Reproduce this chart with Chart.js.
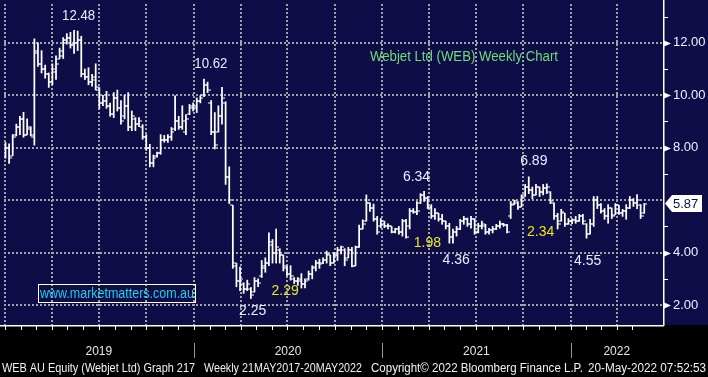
<!DOCTYPE html>
<html><head><meta charset="utf-8">
<script src="https://cdn.jsdelivr.net/npm/chart.js@4.4.1/dist/chart.umd.min.js"></script>
<style>html,body{margin:0;padding:0;background:#000;overflow:hidden}canvas{display:block}</style>
</head><body>
<canvas id="c" width="708" height="377"></canvas>
<script>
// ---- data: weekly bars (week index from first week of Jan 2019) ----
const opens = [7.7,8.0,7.7,8.5,8.8,9.1,8.5,8.7,8.4,11.7, 11.2,11.0,10.8,10.5,10.9,11.4,11.5,12.1,12.2,11.9, 12.0,12.1,10.8,10.7,10.5,10.7,10.2,9.7,9.8,9.6, 9.3,9.9,9.5,9.2,9.6,8.8,9.1,8.9,8.8,8.4, 8.0,7.4,7.7,7.8,8.3,8.3,8.4,8.7,9.0,8.8, 8.6,9.3,9.5,9.5,9.8,10.0,10.4,9.7,8.6,8.6, 9.2,9.7,6.9,5.8,3.5,2.9,2.8,2.6,2.6,2.5, 2.9,3.1,3.4,3.6,4.3,4.0,4.1,3.9,3.4,3.2, 3.0,2.9,2.9,2.8,3.0,3.2,3.4,3.6,3.6,3.7, 3.9,3.6,3.9,4.1,4.1,3.8,4.1,3.5,4.2,4.9, 5.2,5.9,5.7,5.3,5.0,5.1,5.0,5.0,4.8,4.9, 4.8,5.2,5.0,5.6,5.55,5.9,6.2,6.1,5.7,5.4, 5.5,5.3,5.2,5.0,4.6,4.8,4.9,5.2,5.3,5.1, 5.3,4.8,5.0,5.0,4.8,4.85,4.9,5.0,5.1,5.05, 5.4,5.85,5.9,5.75,6.2,6.5,6.4,6.2,6.5,6.3, 6.45,6.3,5.9,5.4,5.2,5.5,5.1,5.2,5.25,5.2, 5.4,5.1,4.7,5.1,6.0,5.8,5.6,5.4,5.7,5.45, 5.8,5.5,5.6,5.7,6.0,5.9,5.8,5.5];
const highs = [8.2,8.15,8.5,8.9,9.2,9.35,9.1,8.8,12.15,12.0, 11.7,11.15,10.85,11.2,11.5,11.8,12.2,12.35,12.4,12.48, 12.45,12.25,11.0,11.05,10.8,11.2,10.3,10.0,10.15,9.7, 10.1,10.2,9.8,10.0,10.1,9.4,9.15,9.15,8.88,8.5, 8.13,7.72,7.83,8.5,8.47,8.5,8.77,9.98,9.2,9.6, 9.26,9.65,9.71,9.9,9.98,10.62,10.5,9.8,9.34,9.6, 10.3,9.75,7.27,5.8,3.6,3.45,2.85,2.95,2.67,3.05, 3.0,3.7,3.8,4.75,4.5,4.9,4.15,3.9,3.5,3.5, 3.05,3.05,3.2,3.0,3.3,3.5,3.7,3.75,3.8,4.06, 3.9,4.0,4.2,4.25,4.15,4.2,4.2,4.25,5.05,5.25, 6.2,5.9,5.85,5.38,5.3,5.2,5.1,5.0,4.93,5.0, 5.27,5.27,5.68,5.68,5.95,6.25,6.34,6.14,5.83,5.68, 5.5,5.46,5.2,5.12,4.9,5.0,5.27,5.38,5.32,5.38, 5.3,5.12,5.2,5.08,4.93,5.0,5.08,5.2,5.12,5.08, 5.95,6.0,5.95,6.2,6.6,6.89,6.5,6.6,6.5,6.6, 6.62,6.32,5.9,5.5,5.65,5.5,5.3,5.3,5.38,5.46, 5.46,5.1,5.27,6.14,6.14,5.87,5.68,5.83,5.7,5.87, 5.8,5.65,5.83,6.14,6.06,6.21,5.83,5.87];
const lows = [7.6,7.4,7.7,8.45,8.5,8.4,8.5,8.45,8.1,11.1, 10.85,10.65,10.3,10.4,10.6,11.4,11.4,11.95,11.8,11.6, 11.7,10.7,10.6,10.4,10.35,10.2,9.5,9.6,9.5,9.2, 9.15,9.4,8.9,9.1,8.65,8.65,8.65,8.8,8.32,7.9, 7.27,7.27,7.64,7.75,8.21,8.2,8.28,8.65,8.7,8.7, 8.5,9.26,9.4,9.34,9.71,9.95,10.1,8.5,7.95,8.6, 8.9,6.6,5.87,3.4,2.7,2.55,2.45,2.55,2.25,2.5, 2.7,3.05,3.25,3.5,3.6,3.6,3.6,3.3,3.12,2.95, 2.82,2.75,2.65,2.65,2.95,3.0,3.3,3.4,3.58,3.6, 3.5,3.6,3.7,3.95,3.5,3.8,3.45,3.5,4.2,4.9, 5.2,5.57,5.2,4.7,4.95,4.95,4.9,4.75,4.75,4.7, 4.63,4.55,4.9,5.5,5.45,5.87,5.95,5.68,5.3,5.27, 5.2,5.08,4.9,4.36,4.36,4.63,4.88,5.08,5.0,4.93, 4.7,4.75,4.9,4.7,4.7,4.75,4.88,4.93,5.0,4.75, 5.3,5.83,5.65,5.75,6.14,6.25,6.05,6.2,6.14,6.2, 6.25,5.87,5.27,4.9,5.2,5.0,5.08,5.1,5.12,5.19, 5.08,4.55,4.7,5.0,5.68,5.5,5.27,5.12,5.3,5.45, 5.46,5.38,5.27,5.68,5.76,5.68,5.3,5.5];
const closes = [8.0,7.6,8.4,8.8,9.1,8.5,8.8,8.5,11.6,11.2, 11.0,10.8,10.5,11.0,11.2,11.7,12.1,12.2,11.9,12.0, 12.1,10.8,10.7,10.5,10.6,10.3,9.7,9.8,9.6,9.3, 9.9,9.5,9.0,9.6,8.8,9.2,8.9,9.0,8.4,8.0, 7.4,7.6,7.8,8.3,8.3,8.4,8.6,9.0,8.8,9.0, 9.1,9.6,9.6,9.8,9.9,10.4,10.2,8.6,8.1,9.2, 9.9,6.9,6.0,3.6,2.9,3.0,2.6,2.8,2.4,2.9, 2.85,3.5,3.6,4.4,4.0,4.2,3.9,3.5,3.2,3.1, 2.9,3.0,2.8,2.9,3.2,3.45,3.6,3.55,3.7,3.95, 3.6,3.9,4.1,4.2,3.7,4.1,3.5,4.2,4.9,5.1, 5.9,5.7,5.3,4.8,5.2,5.0,5.0,4.8,4.9,4.8, 5.2,4.6,5.6,5.55,5.6,6.2,6.1,5.75,5.4,5.5, 5.3,5.2,5.0,4.6,4.8,4.9,5.2,5.3,5.1,5.3, 4.8,5.0,5.1,4.8,4.85,4.9,5.0,5.1,5.05,4.8, 5.8,5.95,5.75,6.1,6.5,6.4,6.2,6.5,6.3,6.45, 6.5,5.95,5.4,5.1,5.55,5.1,5.2,5.25,5.2,5.4, 5.2,4.7,5.1,6.0,5.8,5.6,5.4,5.7,5.4,5.8, 5.5,5.6,5.7,6.0,5.9,6.0,5.4,5.87];
const lastPrice = 5.87;
const yTickValues = [2,3,4,5,6,7,8,9,10,11,12,13];
const yearLabels = ['2019','2020','2021','2022'];
const titleText = 'Webjet Ltd (WEB) Weekly Chart';
const siteText = 'www.marketmatters.com.au';
const footerParts = ['WEB AU Equity (Webjet Ltd) Graph 217','Weekly 21MAY2017-20MAY2022','Copyright\u00A9 2022 Bloomberg Finance L.P.','20-May-2022 07:52:53'];
// annotation labels: text, anchor week, anchor price, colour kind
const noteTexts = ['12.48','10.62','6.34','6.89','4.36','4.55','2.25','2.29','1.98','2.34'];
const noteWeeks = [20.25,56.9,113.9,146.4,124.9,161.3,68.5,77.5,116.9,148.3];
const notePrices = [13.03,11.18,6.89,7.49,3.73,3.69,1.77,2.52,4.37,4.78];
const noteYellow = [false,false,false,false,false,false,false,true,true,true];

// ---- layout / style ----
const NAVY = '#0e0d47';
const GRID = '#a2a2aa';
const X_MIN = -0.41, X_MAX = 182.2, Y_MIN = 1.24, Y_MAX = 13.48;
const FONT = '"Liberation Sans", Arial, sans-serif';
const MS_WEEK = 7 * 86400000;
const T0 = Date.UTC(2019, 0, 1);
const weekOf = (y, m) => (Date.UTC(y, m, 1) - T0) / MS_WEEK;
const quarterWeeks = [], monthWeeks = [];
for (let y = 2019; y <= 2022; y++) for (let m = 0; m < 12; m++) {
  if (y === 2022 && m > 4) break;
  monthWeeks.push(weekOf(y, m));
  if (m % 3 === 0) quarterWeeks.push(weekOf(y, m));
}
const yearStarts = [weekOf(2020,0), weekOf(2021,0), weekOf(2022,0)];

function tickCanvas(left) {
  const c = document.createElement('canvas');
  c.width = 6; c.height = 2;
  const g = c.getContext('2d');
  g.fillStyle = '#ffffff';
  if (left) g.fillRect(0, 0.5, 3, 1); else g.fillRect(3, 0.5, 3, 1);
  return c;
}

const decor = {
  id: 'decor',
  beforeDraw(chart) {
    const {ctx, chartArea: a, width, height} = chart;
    ctx.save();
    ctx.fillStyle = NAVY; ctx.fillRect(0, 0, width, height);
    ctx.fillStyle = '#000'; ctx.fillRect(0, a.bottom, width, height - a.bottom);
    ctx.restore();
  },
  afterDraw(chart) {
    const {ctx, chartArea: a, width, height} = chart;
    const xs = chart.scales.x, ys = chart.scales.y;
    const line = (x1, y1, x2, y2) => { ctx.beginPath(); ctx.moveTo(x1, y1); ctx.lineTo(x2, y2); ctx.stroke(); };
    ctx.save();
    ctx.strokeStyle = '#ffffff'; ctx.lineWidth = 1.5;
    line(a.right + 0.75, 0, a.right + 0.75, a.bottom + 1);
    line(0, a.bottom + 0.75, a.right + 1, a.bottom + 0.75);
    ctx.lineWidth = 1;
    monthWeeks.forEach(w => { const x = Math.round(xs.getPixelForValue(w)) + 0.5; line(x, a.bottom, x, a.bottom + 5); });
    // right axis markers
    ctx.fillStyle = '#ffffff';
    yTickValues.forEach(v => {
      const y = Math.round(ys.getPixelForValue(v)) + 0.5;
      if (v % 2 === 1) { line(a.right, y, a.right + 5, y); }
      else if (v !== 6) { ctx.beginPath(); ctx.moveTo(a.right, y - 3.5); ctx.lineTo(a.right + 8, y); ctx.lineTo(a.right, y + 3.5); ctx.closePath(); ctx.fill(); }
    });
    // last price box
    const yp = ys.getPixelForValue(lastPrice);
    ctx.beginPath();
    ctx.moveTo(a.right + 2, yp); ctx.lineTo(a.right + 9, yp - 8.5); ctx.lineTo(width - 6, yp - 8.5);
    ctx.lineTo(width - 6, yp + 8.5); ctx.lineTo(a.right + 9, yp + 8.5); ctx.closePath();
    ctx.fillStyle = '#ffffff'; ctx.fill();
    ctx.fillStyle = NAVY; ctx.font = '13px ' + FONT; ctx.textAlign = 'left'; ctx.textBaseline = 'middle';
    ctx.fillText(lastPrice.toFixed(2), a.right + 10, yp + 1);
    // year separators and labels
    ctx.strokeStyle = '#9a9a9a'; ctx.lineWidth = 1;
    const bx = [a.left].concat(yearStarts.map(w => xs.getPixelForValue(w))).concat([a.right]);
    yearStarts.forEach((w, i) => { const x = Math.round(bx[i + 1]) + 0.5; line(x, a.bottom + 18, x, a.bottom + 33); });
    ctx.fillStyle = '#e6e6e6'; ctx.font = '12px ' + FONT; ctx.textAlign = 'center';
    yearLabels.forEach((t, i) => ctx.fillText(t, (bx[i] + bx[i + 1]) / 2, a.bottom + 27));
    // footer
    ctx.fillStyle = '#f2f2f2'; ctx.font = '12px ' + FONT; ctx.textAlign = 'left';
    const fx = [2, 204, 371, 588], fw = [193, 158, 212, 118];
    footerParts.forEach((t, i) => ctx.fillText(t, fx[i], height - 8, fw[i]));
    // annotations
    ctx.font = '14px ' + FONT; ctx.textAlign = 'center'; ctx.textBaseline = 'middle';
    noteTexts.forEach((t, i) => {
      ctx.fillStyle = noteYellow[i] ? '#e8e81c' : '#e9eeff';
      ctx.fillText(t, xs.getPixelForValue(noteWeeks[i]), ys.getPixelForValue(notePrices[i]), 33);
    });
    // title
    ctx.fillStyle = '#6fdc72'; ctx.font = '14px ' + FONT; ctx.textAlign = 'left';
    ctx.fillText(titleText, 370, 57, 188);
    // website box
    ctx.strokeStyle = '#ffffff'; ctx.lineWidth = 1;
    ctx.strokeRect(38.5, 284.5, 157, 18);
    ctx.fillStyle = '#1fcfe6'; ctx.font = '14px ' + FONT; ctx.textAlign = 'center';
    ctx.fillText(siteText, 117, 294, 154);
    ctx.restore();
  }
};

const idx = highs.map((_, i) => i);
new Chart(document.getElementById('c'), {
  type: 'bar',
  data: {
    datasets: [
      { type: 'bar', data: idx.map(i => ({x: i, y: [lows[i], highs[i]]})), backgroundColor: '#ffffff', borderWidth: 0, barThickness: 1.1, grouped: false, order: 2 },
      { type: 'scatter', data: idx.map(i => ({x: i, y: opens[i]})), pointStyle: tickCanvas(true), pointRadius: 3, pointHoverRadius: 3, order: 1 },
      { type: 'scatter', data: idx.map(i => ({x: i, y: closes[i]})), pointStyle: tickCanvas(false), pointRadius: 3, pointHoverRadius: 3, order: 1 }
    ]
  },
  options: {
    responsive: false, animation: false, devicePixelRatio: 1, events: [],
    layout: { padding: 0 },
    plugins: { legend: { display: false }, tooltip: { enabled: false } },
    scales: {
      x: {
        type: 'linear', position: 'bottom', min: X_MIN, max: X_MAX, offset: false,
        ticks: { display: false },
        grid: { color: GRID, lineWidth: 2, drawTicks: false, offset: false, borderDash: [2, 2] },
        border: { display: false, dash: [2, 2] },
        afterBuildTicks: s => { s.ticks = quarterWeeks.map(v => ({value: v})); },
        afterFit: s => { s.height = 52; s.paddingLeft = 0; s.paddingRight = 0; }
      },
      y: {
        type: 'linear', position: 'right', min: Y_MIN, max: Y_MAX, beginAtZero: false,
        ticks: { color: '#eef2ff', padding: 10, font: { family: FONT, size: 13 },
                 callback: v => (v % 2 === 1 ? null : (v === 6 ? '' : v.toFixed(2))) },
        grid: { color: GRID, lineWidth: 2, drawTicks: false, borderDash: [2, 2] },
        border: { display: false, dash: [2, 2] },
        afterBuildTicks: s => { s.ticks = yTickValues.map(v => ({value: v})); },
        afterFit: s => { s.width = 45; s.paddingTop = 0; s.paddingBottom = 0; }
      }
    }
  },
  plugins: [decor]
});
</script>
</body></html>
